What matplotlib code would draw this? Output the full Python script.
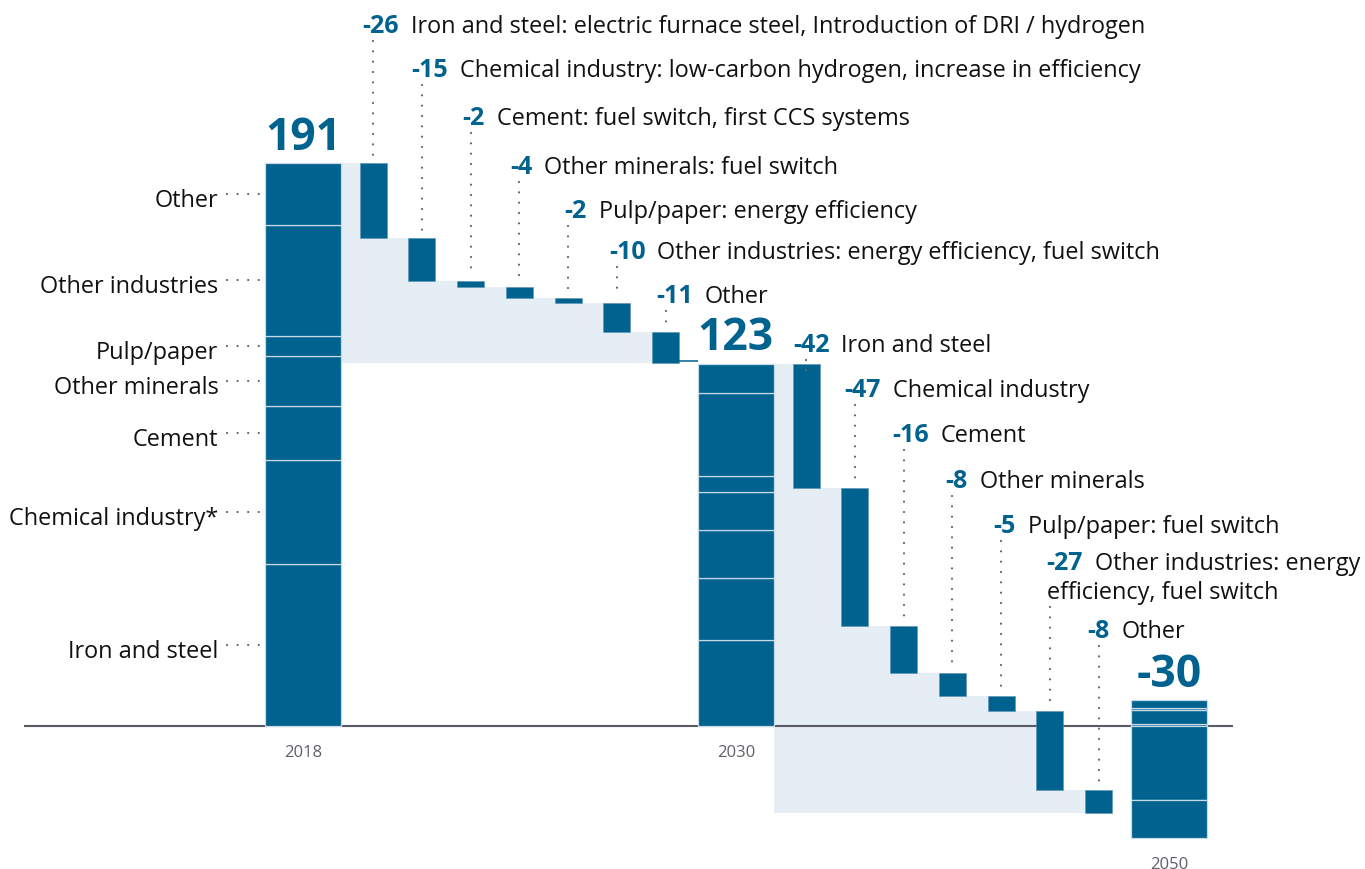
import numpy as np
import matplotlib
matplotlib.use("Agg")
import matplotlib.pyplot as plt

# ---------------- data ----------------
categories = ["Iron and steel", "Chemical industry*", "Cement", "Other minerals",
              "Pulp/paper", "Other industries", "Other"]
years = ["2018", "2030", "2050"]
total_labels = ["191", "123", "-30"]

# stacked sector values of the total bars (bottom -> top order of categories)
seg_2018 = [54.9, 35.4, 18.4, 16.8, 7.0, 37.7, 20.8]
seg_2030 = [29.1, 21.2, 16.4, 12.7, 5.3, 28.2, 10.0]
seg_2050 = [-12.9, -25.1, 0.7, 4.75, 0.6, 0.0, 2.65]

# reductions 2018 -> 2030 and 2030 -> 2050
delta_2030 = [-25.4, -14.4, -2.1, -3.8, -1.7, -9.8, -10.6]
delta_2050 = [-42.0, -46.8, -16.0, -7.8, -5.2, -26.9, -7.9]

delta_2030_numbers = ["-26", "-15", "-2", "-4", "-2", "-10", "-11"]
delta_2030_texts = [
    "Iron and steel: electric furnace steel, Introduction of DRI / hydrogen",
    "Chemical industry: low-carbon hydrogen, increase in efficiency",
    "Cement: fuel switch, first CCS systems",
    "Other minerals: fuel switch",
    "Pulp/paper: energy efficiency",
    "Other industries: energy efficiency, fuel switch",
    "Other",
]
delta_2050_numbers = ["-42", "-47", "-16", "-8", "-5", "-27", "-8"]
delta_2050_texts = [
    "Iron and steel",
    "Chemical industry",
    "Cement",
    "Other minerals",
    "Pulp/paper: fuel switch",
    "Other industries: energy\nefficiency, fuel switch",
    "Other",
]

# ---------------- layout / style ----------------
BLUE = "#00628f"
LIGHT = "#e5eef4"
SEP = "#c6d9e7"
GRAY = "#62626e"
AXIS = "#5b5b66"
TEXT = "#111111"
YEARC = "#5f5f6a"

plt.rcParams['font.family'] = ['Open Sans', 'DejaVu Sans']
FS = 16.9
NUM_FS = 18
BIG_FS = 32
YEAR_FS = 12

W, H, DPI = 1365, 870, 100
PXX = 48.75          # pixels per x unit
PXY = 2.946          # pixels per value unit
X0_PX = 303.0
BASE_PX = 727.0
PT = 72.0 / DPI

fig = plt.figure(figsize=(W / DPI, H / DPI), dpi=DPI)
ax = fig.add_axes([0, 0, 1, 1])
ax.set_xlim(-X0_PX / PXX, (W - X0_PX) / PXX)
ax.set_ylim(-(H - BASE_PX) / PXY, BASE_PX / PXY)
ax.axis('off')


def y_px(ypx):
    return (BASE_PX - ypx) / PXY


def x_px(xpx):
    return (xpx - X0_PX) / PXX


big_w = 76 / PXX
small_w = 27 / PXX
gap = 1.44
x_tot = [0.0]
x_d1 = x_tot[0] + gap + np.arange(len(delta_2030))
x_tot.append(x_d1[-1] + gap)
x_d2 = x_tot[1] + gap + np.arange(len(delta_2050))
x_tot.append(x_d2[-1] + gap)

# label layout (pixel rows of baselines, x offsets from bar centre)
lab1_base = [33.3, 76.6, 124.6, 173.6, 218.3, 258.8, 302.8]
lab2_base = [352.3, 397.3, 442.3, 488.3, 533.3, 570.0, 638.3]
lab1_xoff = [-10.6, -11.0, -8.2, -9.5, -3.5, -8.2, -9.3]
lab2_xoff = [-13.2, -10.5, -11.8, -6.8, -7.5, -3.3, -11.0]
LINE_PX = 29.3
NUM_GAP_PT = 8.6

dot_kw = dict(color=GRAY, lw=1.6, dash_capstyle='round', zorder=4)
DOTS = (0, (0.01, 4.64))


def stacked(xc, segs):
    pos = 0.0
    for v in segs:
        if v >= 0:
            ax.bar(xc, v, bottom=pos, width=big_w, color=BLUE, edgecolor=SEP,
                   linewidth=0.9, zorder=3)
            pos += v
    neg = 0.0
    for v in reversed(segs):
        if v < 0:
            ax.bar(xc, -v, bottom=neg + v, width=big_w, color=BLUE, edgecolor=SEP,
                   linewidth=0.9, zorder=3)
            neg += v
    return pos, neg


def waterfall(xs, start, deltas, x_fill_start):
    levels = start + np.concatenate([[0.0], np.cumsum(deltas)])
    for i, d in enumerate(deltas):
        ax.bar(xs[i], -d, bottom=levels[i + 1], width=small_w, color=BLUE,
               edgecolor="#5f93b5", linewidth=0.4, zorder=3)
    fx = np.concatenate([[x_fill_start], xs])
    ax.fill_between(fx, levels, levels[-1], step='post', color=LIGHT, lw=0, zorder=1)
    return levels


def delta_labels(xs, levels, numbers, texts, bases, xoffs):
    for i in range(len(xs)):
        xl = xs[i] + xoffs[i] / PXX
        yb = y_px(bases[i])
        t = ax.text(xl, yb, numbers[i], color=BLUE, fontweight='bold', fontsize=NUM_FS,
                    ha='left', va='baseline', zorder=5)
        lines = texts[i].split("\n")
        ax.annotate(lines[0], xy=(1, yb), xycoords=(t, 'data'),
                    xytext=(NUM_GAP_PT, 0), textcoords='offset points',
                    ha='left', va='baseline', fontsize=FS, color=TEXT, zorder=5)
        for k, ln in enumerate(lines[1:], 1):
            ax.annotate(ln, xy=(xl, yb), xytext=(0, -k * LINE_PX * PT),
                        textcoords='offset points', ha='left', va='baseline',
                        fontsize=FS, color=TEXT, zorder=5)
        top_px = BASE_PX - levels[i] * PXY
        start_px = bases[i] + 9 + (len(lines) - 1) * LINE_PX
        end_px = max(top_px - 5, start_px + 11)
        ax.plot([xs[i], xs[i]], [y_px(start_px), y_px(end_px)], linestyle=DOTS, **dot_kw)


# axis line
ax.plot([x_px(24), x_px(1233)], [0, 0], color=AXIS, lw=1.5, zorder=2,
        solid_capstyle='butt')

# totals
tops = []
bottoms = []
for xc, segs in zip(x_tot, [seg_2018, seg_2030, seg_2050]):
    p, n = stacked(xc, segs)
    tops.append(p)
    bottoms.append(n)

# waterfalls
lev1 = waterfall(x_d1, sum(seg_2018), delta_2030, x_tot[0] + big_w / 2)
lev2 = waterfall(x_d2, sum(seg_2030), delta_2050, x_tot[1] + big_w / 2)

# small connector between the last step and the 2030 bar
ax.plot([x_d1[-1] + small_w / 2, x_tot[1] - big_w / 2], [lev1[-1] + 0.7] * 2,
        color=BLUE, lw=1.1, zorder=3, solid_capstyle='butt')

delta_labels(x_d1, lev1, delta_2030_numbers, delta_2030_texts, lab1_base, lab1_xoff)
delta_labels(x_d2, lev2, delta_2050_numbers, delta_2050_texts, lab2_base, lab2_xoff)

# total value labels and years
for xc, top, bot, lab, yr in zip(x_tot, tops, bottoms, total_labels, years):
    ax.annotate(lab, xy=(xc, top), xytext=(0, 14.5 * PT), textcoords='offset points',
                ha='center', va='baseline', fontsize=BIG_FS, fontweight='bold',
                color=BLUE, zorder=5)
    ax.annotate(yr, xy=(xc, bot), xytext=(0, -29.7 * PT), textcoords='offset points',
                ha='center', va='baseline', fontsize=YEAR_FS, color=YEARC, zorder=5)

# category labels on the left of the 2018 bar
cum = np.concatenate([[0.0], np.cumsum(seg_2018)])
for i, cat in enumerate(categories):
    yc = (cum[i] + cum[i + 1]) / 2
    ax.annotate(cat, xy=(x_px(218.3), yc), xytext=(0, -12.3 * PT),
                textcoords='offset points', ha='right', va='baseline',
                fontsize=FS, color=TEXT)
    ax.plot([x_px(227), x_px(259.5)], [yc, yc], linestyle=(0, (0.01, 4.75)), **dot_kw)

fig.savefig("out.png", dpi=DPI)
